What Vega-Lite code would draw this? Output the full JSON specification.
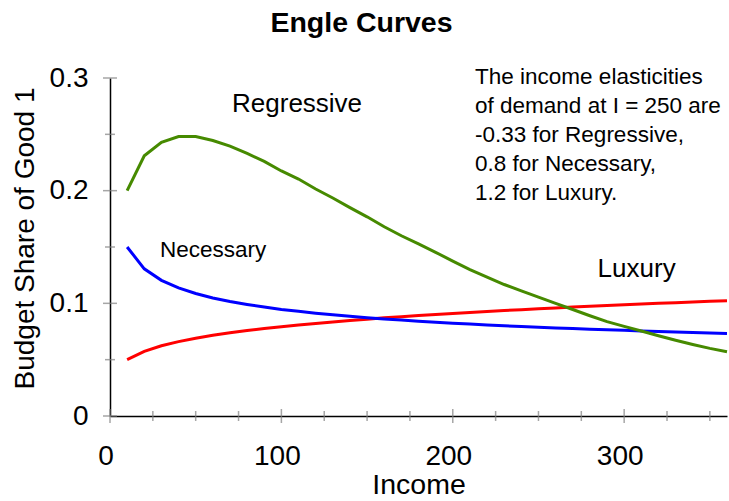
{
  "$schema": "https://vega.github.io/schema/vega-lite/v6.json",
  "width": 617,
  "height": 338,
  "autosize": {"type": "none"},
  "padding": {"left": 110, "top": 78, "right": 2, "bottom": 85},
  "background": "white",
  "config": {"view": {"stroke": null}, "font": "Liberation Sans"},
  "title": {"text": "Engle Curves", "fontSize": 28.5, "fontWeight": "bold", "color": "#000", "baseline": "alphabetic", "offset": 4, "dx": -57},
  "data": {"values": [
    {"income": 10, "share": 0.0500, "series": "Luxury"},
    {"income": 20, "share": 0.0574, "series": "Luxury"},
    {"income": 30, "share": 0.0623, "series": "Luxury"},
    {"income": 40, "share": 0.0660, "series": "Luxury"},
    {"income": 50, "share": 0.0690, "series": "Luxury"},
    {"income": 60, "share": 0.0716, "series": "Luxury"},
    {"income": 70, "share": 0.0738, "series": "Luxury"},
    {"income": 80, "share": 0.0758, "series": "Luxury"},
    {"income": 90, "share": 0.0776, "series": "Luxury"},
    {"income": 100, "share": 0.0792, "series": "Luxury"},
    {"income": 110, "share": 0.0808, "series": "Luxury"},
    {"income": 120, "share": 0.0822, "series": "Luxury"},
    {"income": 130, "share": 0.0835, "series": "Luxury"},
    {"income": 140, "share": 0.0848, "series": "Luxury"},
    {"income": 150, "share": 0.0859, "series": "Luxury"},
    {"income": 160, "share": 0.0871, "series": "Luxury"},
    {"income": 170, "share": 0.0881, "series": "Luxury"},
    {"income": 180, "share": 0.0891, "series": "Luxury"},
    {"income": 190, "share": 0.0901, "series": "Luxury"},
    {"income": 200, "share": 0.0910, "series": "Luxury"},
    {"income": 210, "share": 0.0919, "series": "Luxury"},
    {"income": 220, "share": 0.0928, "series": "Luxury"},
    {"income": 230, "share": 0.0936, "series": "Luxury"},
    {"income": 240, "share": 0.0944, "series": "Luxury"},
    {"income": 250, "share": 0.0952, "series": "Luxury"},
    {"income": 260, "share": 0.0959, "series": "Luxury"},
    {"income": 270, "share": 0.0967, "series": "Luxury"},
    {"income": 280, "share": 0.0974, "series": "Luxury"},
    {"income": 290, "share": 0.0981, "series": "Luxury"},
    {"income": 300, "share": 0.0987, "series": "Luxury"},
    {"income": 310, "share": 0.0994, "series": "Luxury"},
    {"income": 320, "share": 0.1000, "series": "Luxury"},
    {"income": 330, "share": 0.1006, "series": "Luxury"},
    {"income": 340, "share": 0.1012, "series": "Luxury"},
    {"income": 350, "share": 0.1018, "series": "Luxury"},
    {"income": 360, "share": 0.1024, "series": "Luxury"},
    {"income": 10, "share": 0.1500, "series": "Necessary"},
    {"income": 20, "share": 0.1306, "series": "Necessary"},
    {"income": 30, "share": 0.1204, "series": "Necessary"},
    {"income": 40, "share": 0.1137, "series": "Necessary"},
    {"income": 50, "share": 0.1087, "series": "Necessary"},
    {"income": 60, "share": 0.1048, "series": "Necessary"},
    {"income": 70, "share": 0.1016, "series": "Necessary"},
    {"income": 80, "share": 0.0990, "series": "Necessary"},
    {"income": 90, "share": 0.0967, "series": "Necessary"},
    {"income": 100, "share": 0.0946, "series": "Necessary"},
    {"income": 110, "share": 0.0929, "series": "Necessary"},
    {"income": 120, "share": 0.0913, "series": "Necessary"},
    {"income": 130, "share": 0.0898, "series": "Necessary"},
    {"income": 140, "share": 0.0885, "series": "Necessary"},
    {"income": 150, "share": 0.0873, "series": "Necessary"},
    {"income": 160, "share": 0.0862, "series": "Necessary"},
    {"income": 170, "share": 0.0851, "series": "Necessary"},
    {"income": 180, "share": 0.0841, "series": "Necessary"},
    {"income": 190, "share": 0.0832, "series": "Necessary"},
    {"income": 200, "share": 0.0824, "series": "Necessary"},
    {"income": 210, "share": 0.0816, "series": "Necessary"},
    {"income": 220, "share": 0.0808, "series": "Necessary"},
    {"income": 230, "share": 0.0801, "series": "Necessary"},
    {"income": 240, "share": 0.0794, "series": "Necessary"},
    {"income": 250, "share": 0.0788, "series": "Necessary"},
    {"income": 260, "share": 0.0782, "series": "Necessary"},
    {"income": 270, "share": 0.0776, "series": "Necessary"},
    {"income": 280, "share": 0.0770, "series": "Necessary"},
    {"income": 290, "share": 0.0765, "series": "Necessary"},
    {"income": 300, "share": 0.0760, "series": "Necessary"},
    {"income": 310, "share": 0.0755, "series": "Necessary"},
    {"income": 320, "share": 0.0750, "series": "Necessary"},
    {"income": 330, "share": 0.0745, "series": "Necessary"},
    {"income": 340, "share": 0.0741, "series": "Necessary"},
    {"income": 350, "share": 0.0737, "series": "Necessary"},
    {"income": 360, "share": 0.0733, "series": "Necessary"},
    {"income": 10, "share": 0.200, "series": "Regressive"},
    {"income": 20, "share": 0.231, "series": "Regressive"},
    {"income": 30, "share": 0.243, "series": "Regressive"},
    {"income": 40, "share": 0.248, "series": "Regressive"},
    {"income": 50, "share": 0.248, "series": "Regressive"},
    {"income": 60, "share": 0.2445, "series": "Regressive"},
    {"income": 70, "share": 0.2395, "series": "Regressive"},
    {"income": 80, "share": 0.233, "series": "Regressive"},
    {"income": 90, "share": 0.226, "series": "Regressive"},
    {"income": 100, "share": 0.2175, "series": "Regressive"},
    {"income": 110, "share": 0.2103, "series": "Regressive"},
    {"income": 120, "share": 0.2015, "series": "Regressive"},
    {"income": 130, "share": 0.1935, "series": "Regressive"},
    {"income": 140, "share": 0.185, "series": "Regressive"},
    {"income": 150, "share": 0.1768, "series": "Regressive"},
    {"income": 160, "share": 0.168, "series": "Regressive"},
    {"income": 170, "share": 0.160, "series": "Regressive"},
    {"income": 180, "share": 0.1527, "series": "Regressive"},
    {"income": 190, "share": 0.1453, "series": "Regressive"},
    {"income": 200, "share": 0.1375, "series": "Regressive"},
    {"income": 210, "share": 0.130, "series": "Regressive"},
    {"income": 220, "share": 0.1233, "series": "Regressive"},
    {"income": 230, "share": 0.1167, "series": "Regressive"},
    {"income": 240, "share": 0.111, "series": "Regressive"},
    {"income": 250, "share": 0.1055, "series": "Regressive"},
    {"income": 260, "share": 0.100, "series": "Regressive"},
    {"income": 270, "share": 0.0945, "series": "Regressive"},
    {"income": 280, "share": 0.089, "series": "Regressive"},
    {"income": 290, "share": 0.0838, "series": "Regressive"},
    {"income": 300, "share": 0.0795, "series": "Regressive"},
    {"income": 310, "share": 0.0755, "series": "Regressive"},
    {"income": 320, "share": 0.0712, "series": "Regressive"},
    {"income": 330, "share": 0.0672, "series": "Regressive"},
    {"income": 340, "share": 0.0635, "series": "Regressive"},
    {"income": 350, "share": 0.060, "series": "Regressive"},
    {"income": 360, "share": 0.057, "series": "Regressive"}
  ]},
  "layer": [
    {
      "data": {"values": [{"v": 0}, {"v": 100}, {"v": 200}, {"v": 300}]},
      "mark": {"type": "tick", "orient": "vertical", "size": 14, "thickness": 1.5, "color": "#808080"},
      "encoding": {"x": {"field": "v", "type": "quantitative"}, "y": {"datum": 0}}
    },
    {
      "data": {"values": [{"v": 25}, {"v": 50}, {"v": 75}, {"v": 125}, {"v": 150}, {"v": 175}, {"v": 225}, {"v": 250}, {"v": 275}, {"v": 325}, {"v": 350}]},
      "mark": {"type": "tick", "orient": "vertical", "size": 10, "thickness": 1.5, "color": "#808080"},
      "encoding": {"x": {"field": "v", "type": "quantitative"}, "y": {"datum": 0}}
    },
    {
      "data": {"values": [{"v": 0}, {"v": 0.1}, {"v": 0.2}, {"v": 0.3}]},
      "mark": {"type": "tick", "orient": "horizontal", "size": 14, "thickness": 1.5, "color": "#808080"},
      "encoding": {"y": {"field": "v", "type": "quantitative"}, "x": {"datum": 0}}
    },
    {
      "data": {"values": [{"v": 0.05}, {"v": 0.15}, {"v": 0.25}]},
      "mark": {"type": "tick", "orient": "horizontal", "size": 10, "thickness": 1.5, "color": "#808080"},
      "encoding": {"y": {"field": "v", "type": "quantitative"}, "x": {"datum": 0}}
    },
    {
      "mark": {"type": "line", "strokeWidth": 3},
      "encoding": {
        "x": {"field": "income", "type": "quantitative",
              "scale": {"domain": [0, 360], "nice": false, "zero": false},
              "axis": {"title": "Income", "values": [0, 100, 200, 300], "ticks": false, "tickSize": 0,
                       "labelFontSize": 28, "labelPadding": 48, "labelBaseline": "alphabetic", "labelOffset": -4.5,
                       "labelFlush": false, "labelOverlap": false, "labelColor": "#000",
                       "domainColor": "#000", "domainWidth": 1.5, "grid": false,
                       "titleFontSize": 28.5, "titleFontWeight": "normal", "titleColor": "#000",
                       "titleBaseline": "alphabetic", "titleY": 77}},
        "y": {"field": "share", "type": "quantitative",
              "scale": {"domain": [0, 0.3], "nice": false},
              "axis": {"title": "Budget Share of Good 1", "values": [0, 0.1, 0.2, 0.3], "ticks": false, "tickSize": 0,
                       "labelExpr": "datum.value == 0 ? '0' : format(datum.value, '.1f')",
                       "labelFontSize": 28, "labelPadding": 22, "labelBaseline": "middle",
                       "labelFlush": false, "labelOverlap": false, "labelColor": "#000",
                       "domainColor": "#000", "domainWidth": 1.5, "grid": false,
                       "titleFontSize": 28, "titleFontWeight": "normal", "titleColor": "#000",
                       "titleBaseline": "alphabetic", "titleX": -77, "titleY": 160}},
        "color": {"field": "series", "type": "nominal",
                  "scale": {"domain": ["Luxury", "Necessary", "Regressive"], "range": ["#ff0000", "#0000ff", "#468a00"]},
                  "legend": null}
      }
    },
    {
      "data": {"values": [{}]},
      "mark": {"type": "text", "text": "Regressive", "fontSize": 26, "align": "left", "baseline": "alphabetic", "color": "#000"},
      "encoding": {"x": {"datum": 71.2}, "y": {"datum": 0.2698}}
    },
    {
      "data": {"values": [{}]},
      "mark": {"type": "text", "text": "Necessary", "fontSize": 22.5, "align": "left", "baseline": "alphabetic", "color": "#000"},
      "encoding": {"x": {"datum": 29.2}, "y": {"datum": 0.1414}}
    },
    {
      "data": {"values": [{}]},
      "mark": {"type": "text", "text": "Luxury", "fontSize": 26, "align": "left", "baseline": "alphabetic", "color": "#000"},
      "encoding": {"x": {"datum": 284.5}, "y": {"datum": 0.1236}}
    },
    {
      "data": {"values": [{}]},
      "mark": {"type": "text", "text": ["The income elasticities", "of demand at I = 250 are", "-0.33 for Regressive,", "0.8 for Necessary,", "1.2 for Luxury."],
               "fontSize": 22.5, "lineHeight": 29, "align": "left", "baseline": "alphabetic", "color": "#000"},
      "encoding": {"x": {"datum": 213}, "y": {"datum": 0.2944}}
    }
  ]
}
